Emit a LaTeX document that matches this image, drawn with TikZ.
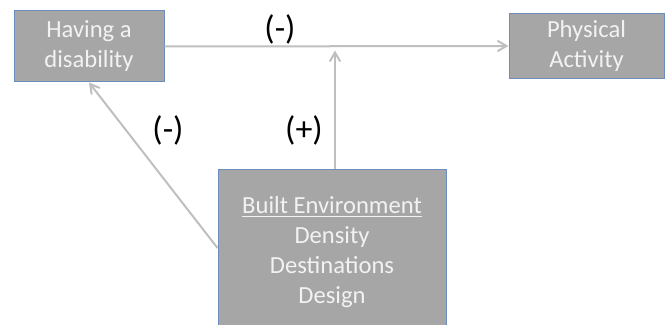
\documentclass[tikz,border=0pt]{standalone}
\usepackage{fontspec}
\setmainfont{Carlito}
\usepackage{xcolor}
\usetikzlibrary{positioning, arrows}

\definecolor{boxgray}{HTML}{A6A6A6}
\definecolor{boxedge}{HTML}{6C8EBF}
\definecolor{linkgray}{HTML}{BFBFBF}

\begin{document}
\begin{tikzpicture}[x=0.5pt, y=0.5pt,
        factor/.style={draw=boxedge, line width=0.5pt, fill=boxgray, text=white!95!black,
            align=center, inner sep=0pt, font=\fontsize{12.3}{15}\selectfont},
        link/.style={draw=linkgray, line width=1pt, ->, >=angle 60},
        sign/.style={font=\fontsize{17}{20}\selectfont}]
    \useasboundingbox (0,0) rectangle (665,325);

    % the three factors
    \node[factor, minimum width=75pt, minimum height=35.5pt] (disab) at (89,278.5) {Having a\\disability};
    \node[factor, minimum width=77.5pt, minimum height=32.5pt] (phys) at (586.5,279) {Physical\\Activity};
    \node[factor, minimum width=114pt, minimum height=82pt] (built) at (332,73)
        {\underline{Built Environment}\\Density\\Destinations\\Design};

    % effects
    \draw[link] (disab.east) -- (phys.west);
    \draw[link, shorten >=2pt] ([xshift=1.5pt]built.north) -- ([xshift=1.5pt]built.north |- disab.east);
    \draw[link] ([yshift=2pt]built.west) -- (disab.south);

    \node[sign] (signtop) at (280,296) {(-)};
    \node[sign] (signleft) at (168,195) {(-)};
    \node[sign] (signup) at (304,195) {(+)};
\end{tikzpicture}
\end{document}
